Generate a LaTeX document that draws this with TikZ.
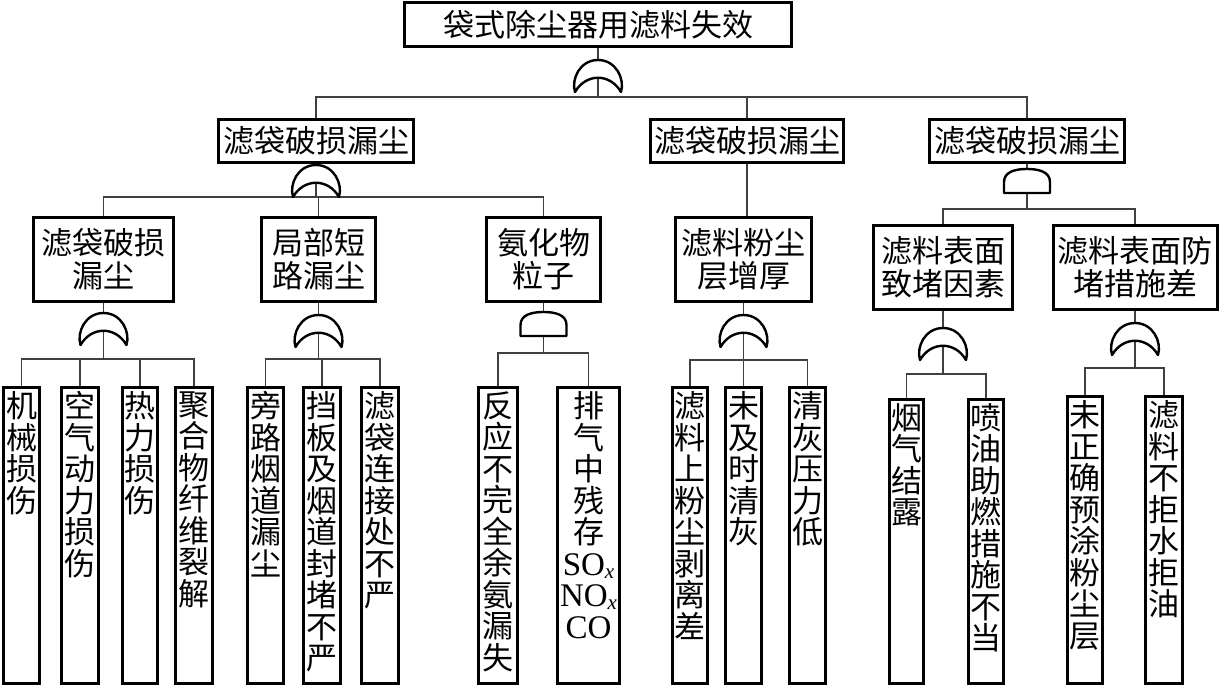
\documentclass[tikz,border=0pt]{standalone}
\usepackage{fontspec}
\newfontfamily\cjk{Noto Sans CJK SC}
\newfontfamily\lat{Liberation Serif}
\newcommand{\vt}[3]{\parbox[t][#2pt][t]{#1pt}{\centering\vspace*{4pt}#3}}
\newcommand{\sx}{\raisebox{-3pt}{\fontsize{21}{21}\selectfont\itshape x}}
\tikzset{
  box/.style={draw, line width=3pt, inner sep=0pt, align=center, font=\cjk\fontsize{31}{33}\selectfont},
  leaf/.style={draw, line width=3pt, inner sep=0pt, anchor=north west, font=\cjk\fontsize{31}{31.5}\selectfont},
  conn/.style={line width=1.4pt, draw=black!75},
  gateline/.style={draw, line width=2.4pt, fill=white, line join=round},
  orgate/.pic={\path[gateline] (-23,0) .. controls (-27,-13) and (-18,-32) .. (0,-32) .. controls (18,-32) and (27,-13) .. (23,0) .. controls (12,-19) and (-12,-19) .. cycle;},
  andgate/.pic={\path[gateline] (-23,0) -- (-23,-11) .. controls (-23,-22) and (-10,-24) .. (0,-24) .. controls (10,-24) and (23,-22) .. (23,-11) -- (23,0) -- cycle;}
}
\begin{document}
\begin{tikzpicture}[x=1pt,y=-1pt]
\useasboundingbox[fill=white] (0,0) rectangle (1221,687);

% rows of connector levels
\coordinate (r0) at (0,97);
\coordinate (r1) at (0,197);
\coordinate (r1c) at (0,209);
\coordinate (rA3) at (0,359);
\coordinate (rP) at (0,359);
\coordinate (rN) at (0,353);
\coordinate (rB2) at (0,360);
\coordinate (rC1) at (0,374);
\coordinate (rC2) at (0,368);

% boxes
\node[box, minimum width=387, minimum height=44] (top) at (598,24.5) {袋式除尘器用滤料失效};
\node[box, minimum width=195, minimum height=43] (A) at (316,141) {滤袋破损漏尘};
\node[box, minimum width=193, minimum height=43] (B) at (747,141) {滤袋破损漏尘};
\node[box, minimum width=195, minimum height=43] (C) at (1027,141) {滤袋破损漏尘};
\node[box, minimum width=140, minimum height=84] (A3) at (103.5,259.5) {滤袋破损\\漏尘};
\node[box, minimum width=114, minimum height=84] (P) at (318.5,259.5) {局部短\\路漏尘};
\node[box, minimum width=114, minimum height=84] (N) at (543.5,259.5) {氨化物\\粒子};
\node[box, minimum width=136, minimum height=84] (B2) at (743.5,259.5) {滤料粉尘\\层增厚};
\node[box, minimum width=139, minimum height=84] (C1) at (943,267.5) {滤料表面\\致堵因素};
\node[box, minimum width=164, minimum height=84] (C2) at (1135,267.5) {滤料表面防\\堵措施差};

% leaves
\node[leaf] (l1) at (2,386) {\vt{36}{296}{机\\械\\损\\伤}};
\node[leaf] (l2) at (60,386) {\vt{37}{296}{空\\气\\动\\力\\损\\伤}};
\node[leaf] (l3) at (121,386) {\vt{35}{296}{热\\力\\损\\伤}};
\node[leaf] (l4) at (174,386) {\vt{37}{296}{聚\\合\\物\\纤\\维\\裂\\解}};
\node[leaf] (l5) at (246,386) {\vt{36}{296}{旁\\路\\烟\\道\\漏\\尘}};
\node[leaf] (l6) at (302,386) {\vt{37}{296}{挡\\板\\及\\烟\\道\\封\\堵\\不\\严}};
\node[leaf] (l7) at (360,386) {\vt{37}{296}{滤\\袋\\连\\接\\处\\不\\严}};
\node[leaf] (l8) at (477,386) {\vt{39}{296}{反\\应\\不\\完\\全\\余\\氨\\漏\\失}};
\node[leaf] (l9) at (556,386) {\vt{62}{296}{排\\气\\中\\残\\存\\{\lat\fontsize{33}{31.5}\selectfont SO\sx}\\{\lat\fontsize{33}{31.5}\selectfont NO\sx}\\{\lat\fontsize{33}{31.5}\selectfont CO}}};
\node[leaf] (l10) at (671,386) {\vt{35}{296}{滤\\料\\上\\粉\\尘\\剥\\离\\差}};
\node[leaf] (l11) at (724,386) {\vt{36}{296}{未\\及\\时\\清\\灰}};
\node[leaf] (l12) at (788,386) {\vt{36}{296}{清\\灰\\压\\力\\低}};
\node[leaf] (l13) at (888,398) {\vt{34}{284}{烟\\气\\结\\露}};
\node[leaf] (l14) at (967,398) {\vt{35}{284}{喷\\油\\助\\燃\\措\\施\\不\\当}};
\node[leaf] (l15) at (1066,395) {\vt{35}{287}{未\\正\\确\\预\\涂\\粉\\尘\\层}};
\node[leaf] (l16) at (1144,395) {\vt{37}{287}{滤\\料\\不\\拒\\水\\拒\\油}};

% connectors level 1
\draw[conn] (top.south) -- (top.south |- r0);
\draw[conn] (A.north) |- (C.north |- r0) -- (C.north);
\draw[conn] (B.north) -- (B.north |- r0);
\pic at ([yshift=5pt]top.south |- r0) {orgate};

% under A
\draw[conn] (A.south) -- (A.south |- r1);
\draw[conn] (A3.north) |- (N.north |- r1) -- (N.north);
\draw[conn] (P.north) -- (P.north |- r1);
\pic at (A.south |- r1) {orgate};

% under B
\draw[conn] (B.south) -- (B.south |- B2.north);

% under C
\draw[conn] (C.south) -- (C.south |- r1c);
\draw[conn] (C1.north) |- (C2.north |- r1c) -- (C2.north);
\pic at ([yshift=16pt]C.south |- r1c) {andgate};

% under A3
\draw[conn] (A3.south) -- (A3.south |- rA3);
\draw[conn] (l1.north) |- (l4.north |- rA3) -- (l4.north);
\draw[conn] (l2.north) -- (l2.north |- rA3);
\draw[conn] (l3.north) -- (l3.north |- rA3);
\pic at ([yshift=14pt]A3.south |- rA3) {orgate};

% under P
\draw[conn] (P.south) -- (P.south |- rP);
\draw[conn] (l5.north) |- (l7.north |- rP) -- (l7.north);
\draw[conn] (l6.north) -- (l6.north |- rP);
\pic at ([yshift=12pt]P.south |- rP) {orgate};

% under N
\draw[conn] (N.south) -- (N.south |- rN);
\draw[conn] (l8.north) |- (l9.north |- rN) -- (l9.north);
\pic at ([yshift=17pt]N.south |- rN) {andgate};

% under B2
\draw[conn] (B2.south) -- (B2.south |- rB2);
\draw[conn] (l10.north) |- (l12.north |- rB2) -- (l12.north);
\draw[conn] (l11.north) -- (l11.north |- rB2);
\pic at ([yshift=13pt]B2.south |- rB2) {orgate};

% under C1
\draw[conn] (C1.south) -- (C1.south |- rC1);
\draw[conn] (l13.north) |- (l14.north |- rC1) -- (l14.north);
\pic at ([yshift=14pt]C1.south |- rC1) {orgate};

% under C2
\draw[conn] (C2.south) -- (C2.south |- rC2);
\draw[conn] (l15.north) |- (l16.north |- rC2) -- (l16.north);
\pic at ([yshift=13pt]C2.south |- rC2) {orgate};
\end{tikzpicture}
\end{document}
